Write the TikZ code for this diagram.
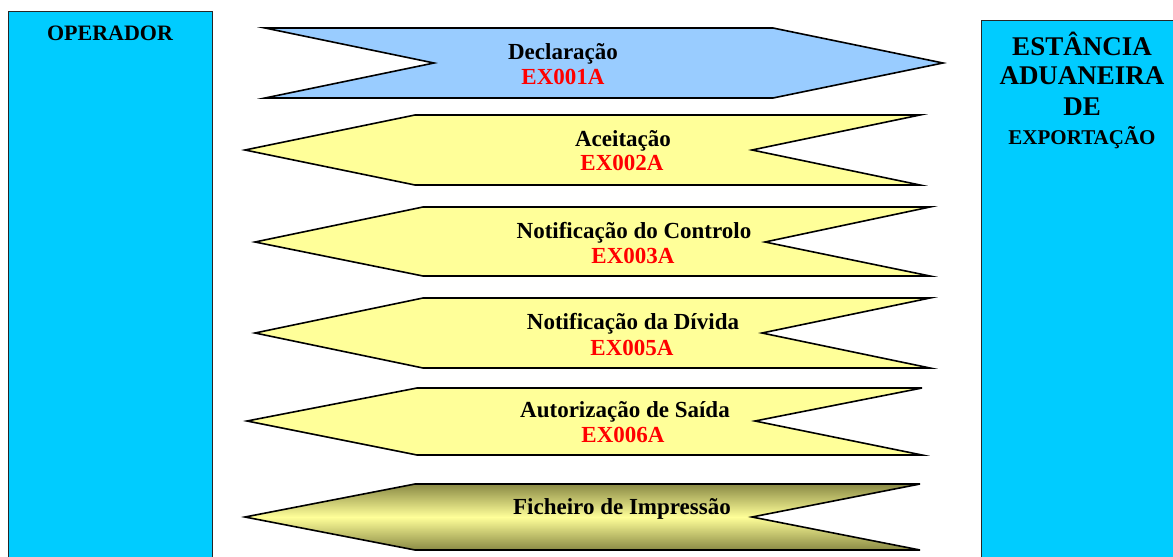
\documentclass[tikz,border=0pt]{standalone}
\usepackage{fontspec}
\setmainfont{Liberation Serif}
\usetikzlibrary{positioning}
\definecolor{boxcyan}{HTML}{00CCFF}
\definecolor{declblue}{HTML}{99CCFF}
\definecolor{msgyellow}{HTML}{FFFF99}
\definecolor{printolive}{HTML}{8A8A45}
\tikzset{
	side/.style={draw=black!85, line width=1.3pt, fill=boxcyan, anchor=north west, inner sep=0pt},
	msg/.style={draw=black, line width=1.6pt, line join=miter, fill=msgyellow},
	lbl/.style={font=\fontsize{23}{26}\selectfont\bfseries, anchor=base, inner sep=0pt},
	code/.style={lbl, text=red},
	head/.style={font=\fontsize{27}{30}\selectfont\bfseries, anchor=base, inner sep=0pt},
}

\begin{document}
\begin{tikzpicture}[x=1pt, y=-1pt]
		\useasboundingbox (0,0) rectangle (1173,557);

		\node[side, minimum width=204pt, minimum height=560pt] (operador) at (8,11) {};
		\node[side, minimum width=220pt, minimum height=560pt] (estancia) at (981,20) {};

		\node[lbl, font=\fontsize{22}{26}\selectfont\bfseries] (op) at (110,40.7) {OPERADOR};
		\node[head] (est1) at (1082,55) {ESTÂNCIA};
		\node[head] (est2) at (1082,84) {ADUANEIRA};
		\node[head] (est3) at (1082,115) {DE};
		\node[head, font=\fontsize{21}{24}\selectfont\bfseries] (est4) at (1082,144) {EXPORTAÇÃO};

		\draw[msg, fill=declblue] (265,28) -- (773,28) -- (943,63) -- (773,98) -- (265,98) -- (434,63) -- cycle;
		\draw[msg] (245,150) -- (415,115) -- (920,115) -- (752,150) -- (920,185) -- (415,185) -- cycle;
		\draw[msg] (255,242) -- (423,207) -- (930,207) -- (765,242) -- (930,276) -- (423,276) -- cycle;
		\draw[msg] (255,333) -- (423,298) -- (930,298) -- (762,333) -- (930,368) -- (423,368) -- cycle;
		\draw[msg] (247,421) -- (417,388) -- (922,388) -- (755,421) -- (922,455) -- (417,455) -- cycle;
		\draw[msg, top color=printolive, bottom color=printolive, middle color=msgyellow]
			(245,517) -- (415,484) -- (920,484) -- (752,517) -- (920,550) -- (415,550) -- cycle;

		\node[lbl] (decl) at (563,59.5) {Declaração};
		\node[code] (ex001) at (563,84.5) {EX001A};
		\node[lbl] (acei) at (623,146.5) {Aceitação};
		\node[code] (ex002) at (622,170.5) {EX002A};
		\node[lbl] (ctrl) at (634,238.5) {Notificação do Controlo};
		\node[code] (ex003) at (633,263.5) {EX003A};
		\node[lbl] (divida) at (633,329.5) {Notificação da Dívida};
		\node[code] (ex005) at (632,355) {EX005A};
		\node[lbl] (saida) at (625,417.5) {Autorização de Saída};
		\node[code] (ex006) at (623,442.5) {EX006A};
		\node[lbl] (impr) at (622,514.5) {Ficheiro de Impressão};
	\end{tikzpicture}
\end{document}
